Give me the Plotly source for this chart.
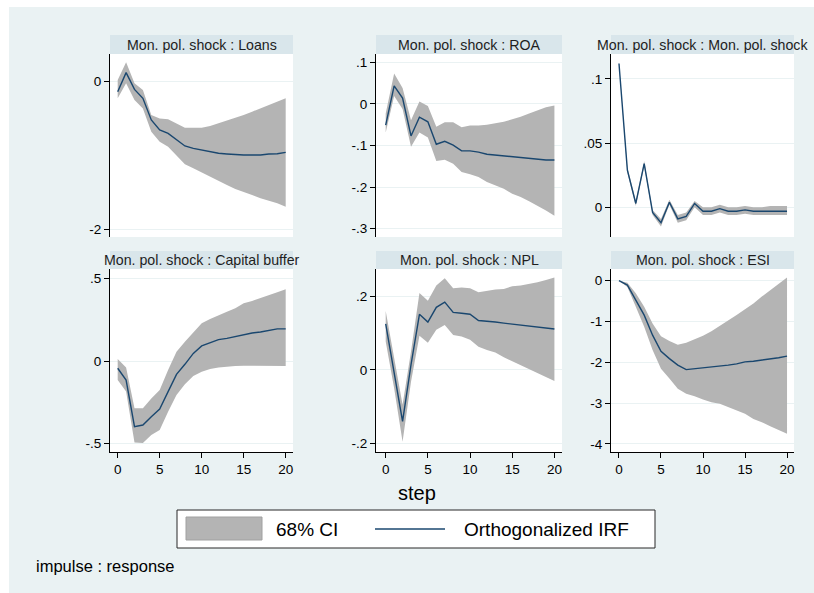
import plotly.graph_objects as go

W, H = 814, 593
steps = list(range(21))
x_ticks = [0, 5, 10, 15, 20]

# ---------------- data ----------------
loans_irf = [-0.144, 0.113, -0.113, -0.234, -0.527, -0.662, -0.707, -0.797, -0.878, -0.91, -0.932,
             -0.96, -0.977, -0.986, -0.995, -1.0, -1.0, -1.0, -0.986, -0.982, -0.964]
loans_hi = [0.014, 0.252, -0.03, -0.12, -0.46, -0.505, -0.518, -0.572, -0.63, -0.63, -0.63,
            -0.608, -0.572, -0.536, -0.495, -0.46, -0.414, -0.37, -0.324, -0.28, -0.234]
loans_lo = [-0.234, -0.03, -0.257, -0.37, -0.685, -0.82, -0.887, -1.0, -1.126, -1.18, -1.239,
            -1.293, -1.347, -1.405, -1.46, -1.495, -1.54, -1.586, -1.617, -1.653, -1.698]

roa_irf = [-0.051, 0.0435, 0.014, -0.077, -0.032, -0.043, -0.097, -0.09, -0.099, -0.113, -0.113,
           -0.116, -0.121, -0.123, -0.125, -0.127, -0.129, -0.131, -0.133, -0.135, -0.135]
roa_hi = [-0.023, 0.073, 0.038, -0.039, 0.006, -0.005, -0.055, -0.044, -0.044, -0.056, -0.052,
          -0.052, -0.05, -0.047, -0.043, -0.037, -0.031, -0.023, -0.015, -0.008, -0.004]
roa_lo = [-0.069, 0.019, -0.012, -0.103, -0.069, -0.081, -0.137, -0.134, -0.144, -0.164, -0.169,
          -0.176, -0.188, -0.196, -0.204, -0.216, -0.224, -0.234, -0.244, -0.256, -0.269]

mps_irf = [0.112, 0.029, 0.003, 0.034, -0.004, -0.012, 0.004, -0.009, -0.007, 0.003, -0.003,
           -0.003, -0.001, -0.003, -0.003, -0.002, -0.003, -0.003, -0.003, -0.003, -0.003]
mps_hi = [0.1125, 0.031, 0.005, 0.036, -0.002, -0.009, 0.006, -0.006, -0.004, 0.005, 0.0,
          0.0, 0.002, 0.0, 0.0, 0.001, 0.0, 0.0, 0.001, 0.001, 0.001]
mps_lo = [0.1115, 0.027, 0.001, 0.032, -0.006, -0.015, 0.002, -0.012, -0.010, 0.0, -0.006,
          -0.006, -0.004, -0.006, -0.006, -0.005, -0.006, -0.006, -0.006, -0.006, -0.006]

cap_irf = [-0.044, -0.115, -0.397, -0.387, -0.337, -0.29, -0.185, -0.081, -0.02, 0.046, 0.091,
           0.111, 0.129, 0.137, 0.149, 0.161, 0.169, 0.175, 0.185, 0.194, 0.194]
cap_hi = [0.012, -0.04, -0.286, -0.286, -0.226, -0.175, -0.054, 0.056, 0.117, 0.173, 0.228,
          0.254, 0.278, 0.298, 0.319, 0.349, 0.363, 0.379, 0.399, 0.415, 0.433]
cap_lo = [-0.115, -0.185, -0.492, -0.496, -0.448, -0.417, -0.306, -0.206, -0.141, -0.091, -0.065,
          -0.048, -0.04, -0.034, -0.03, -0.028, -0.028, -0.028, -0.028, -0.03, -0.03]

npl_irf = [0.125, -0.01, -0.14, 0.014, 0.151, 0.13, 0.17, 0.184, 0.156, 0.154, 0.151,
           0.134, 0.133, 0.13, 0.127, 0.124, 0.122, 0.12, 0.117, 0.113, 0.111]
npl_hi = [0.16, 0.032, -0.095, 0.05, 0.209, 0.188, 0.229, 0.249, 0.222, 0.224, 0.222,
          0.211, 0.215, 0.218, 0.22, 0.227, 0.229, 0.233, 0.238, 0.244, 0.251]
npl_lo = [0.077, -0.05, -0.195, -0.032, 0.093, 0.074, 0.109, 0.122, 0.095, 0.091, 0.082,
          0.063, 0.054, 0.047, 0.034, 0.023, 0.014, 0.002, -0.009, -0.021, -0.03]

esi_irf = [0.0, -0.107, -0.475, -0.844, -1.336, -1.73, -1.91, -2.07, -2.18, -2.16, -2.14,
           -2.12, -2.10, -2.07, -2.04, -1.99, -1.975, -1.95, -1.93, -1.89, -1.85]
esi_hi = [0.0, -0.05, -0.31, -0.64, -1.05, -1.36, -1.48, -1.57, -1.52, -1.44, -1.35,
          -1.24, -1.11, -0.99, -0.84, -0.70, -0.56, -0.39, -0.23, -0.07, 0.08]
esi_lo = [0.0, -0.156, -0.64, -1.13, -1.70, -2.16, -2.40, -2.65, -2.77, -2.83, -2.91,
          -2.98, -3.02, -3.10, -3.18, -3.26, -3.39, -3.47, -3.57, -3.66, -3.75]

titles = ["Mon. pol. shock : Loans", "Mon. pol. shock : ROA", "Mon. pol. shock : Mon. pol. shock",
          "Mon. pol. shock : Capital buffer", "Mon. pol. shock : NPL", "Mon. pol. shock : ESI"]

loans_tv, loans_tt = [0, -2], ["0", "-2"]
roa_tv, roa_tt = [0.1, 0, -0.1, -0.2, -0.3], [".1", "0", "-.1", "-.2", "-.3"]
mps_tv, mps_tt = [0.1, 0.05, 0], [".1", ".05", "0"]
cap_tv, cap_tt = [0.5, 0, -0.5], [".5", "0", "-.5"]
npl_tv, npl_tt = [0.2, 0, -0.2], [".2", "0", "-.2"]
esi_tv, esi_tt = [0, -1, -2, -3, -4], ["0", "-1", "-2", "-3", "-4"]

legend_labels = ["68% CI", "Orthogonalized IRF"]

# ---------------- styling / layout ----------------
BG = "rgb(234,242,243)"
STRIP = "rgb(217,230,235)"
GRID = "rgb(234,242,243)"
CI = "rgb(180,180,180)"
NAVY = "rgb(26,71,111)"
FONT = "Liberation Sans, Arial, sans-serif"

def px(x):
    return x / W

def py(y):
    return 1 - y / H

panels = [
    dict(irf=loans_irf, hi=loans_hi, lo=loans_lo, tv=loans_tv, tt=loans_tt, yr=[-2.108, 0.365]),
    dict(irf=roa_irf, hi=roa_hi, lo=roa_lo, tv=roa_tv, tt=roa_tt, yr=[-0.32, 0.12]),
    dict(irf=mps_irf, hi=mps_hi, lo=mps_lo, tv=mps_tv, tt=mps_tt, yr=[-0.0231, 0.1194]),
    dict(irf=cap_irf, hi=cap_hi, lo=cap_lo, tv=cap_tv, tt=cap_tt, yr=[-0.55, 0.556]),
    dict(irf=npl_irf, hi=npl_hi, lo=npl_lo, tv=npl_tv, tt=npl_tt, yr=[-0.223, 0.274]),
    dict(irf=esi_irf, hi=esi_hi, lo=esi_lo, tv=esi_tv, tt=esi_tt, yr=[-4.2, 0.287]),
]

col_px = [(110, 293), (376, 562), (611, 794)]
col_xr = [[-0.917, 20.87], [-1.15, 20.9], [-0.95, 20.83]]
row_px = [(54, 237), (269, 452)]
strip_px = [(35, 54), (251, 269)]

fig = go.Figure()
shapes = []
annotations = []
layout_axes = {}

for i, p in enumerate(panels):
    r, c = divmod(i, 3)
    n = i + 1
    xa = "x" if n == 1 else f"x{n}"
    ya = "y" if n == 1 else f"y{n}"
    fig.add_trace(go.Scatter(x=steps, y=p["lo"], mode="lines", line=dict(width=0, color=CI),
                             xaxis=xa, yaxis=ya, showlegend=False, hoverinfo="skip"))
    fig.add_trace(go.Scatter(x=steps, y=p["hi"], mode="lines", line=dict(width=0, color=CI),
                             fill="tonexty", fillcolor=CI,
                             xaxis=xa, yaxis=ya, showlegend=False, hoverinfo="skip"))
    fig.add_trace(go.Scatter(x=steps, y=p["irf"], mode="lines", line=dict(width=1.4, color=NAVY),
                             xaxis=xa, yaxis=ya, showlegend=False))
    x0, x1 = col_px[c]
    y0, y1 = row_px[r]
    xkey = "xaxis" if n == 1 else f"xaxis{n}"
    ykey = "yaxis" if n == 1 else f"yaxis{n}"
    layout_axes[xkey] = dict(
        domain=[px(x0), px(x1)], anchor=ya, range=col_xr[c],
        showgrid=False, zeroline=False,
        visible=(r == 1), showline=True, linecolor="black", linewidth=1,
        ticks="outside", ticklen=5, tickcolor="black",
        tickmode="array", tickvals=x_ticks, ticktext=[str(v) for v in x_ticks],
        tickfont=dict(family=FONT, size=13.5, color="black"),
    )
    layout_axes[ykey] = dict(
        domain=[py(y1), py(y0)], anchor=xa, range=p["yr"],
        showgrid=True, gridcolor=GRID, gridwidth=1, zeroline=False,
        showline=True, linecolor="black", linewidth=1,
        ticks="outside", ticklen=5, tickcolor="black",
        tickmode="array", tickvals=p["tv"], ticktext=p["tt"],
        tickfont=dict(family=FONT, size=13.5, color="black"),
    )
    s0, s1 = strip_px[r]
    shapes.append(dict(type="rect", xref="paper", yref="paper",
                       x0=px(x0), x1=px(x1), y0=py(s1), y1=py(s0),
                       fillcolor=STRIP, line=dict(width=0), layer="below"))
    annotations.append(dict(text=titles[i], xref="paper", yref="paper",
                            x=px((x0 + x1) / 2), y=py((s0 + s1) / 2),
                            xanchor="center", yanchor="middle", showarrow=False,
                            font=dict(family=FONT, size=14.2, color="rgb(30,30,30)")))

# thin white page border (left and top) around the grey-blue graph region
for (a0, a1, b0, b1) in [(0, 9, 0, H), (0, W, 0, 7)]:
    shapes.append(dict(type="rect", xref="paper", yref="paper",
                       x0=px(a0), x1=px(a1), y0=py(b1), y1=py(b0),
                       fillcolor="white", line=dict(width=0)))

# legend box
shapes.append(dict(type="rect", xref="paper", yref="paper",
                   x0=px(177), x1=px(655), y0=py(548), y1=py(510),
                   fillcolor="white", line=dict(color="rgb(40,40,40)", width=1)))
shapes.append(dict(type="rect", xref="paper", yref="paper",
                   x0=px(186), x1=px(262), y0=py(540), y1=py(517),
                   fillcolor=CI, line=dict(color="rgb(160,160,160)", width=1)))
shapes.append(dict(type="line", xref="paper", yref="paper",
                   x0=px(375), x1=px(445), y0=py(529), y1=py(529),
                   line=dict(color=NAVY, width=1.4)))
annotations.append(dict(text=legend_labels[0], xref="paper", yref="paper",
                        x=px(274), y=py(529), xanchor="left", yanchor="middle", showarrow=False,
                        font=dict(family=FONT, size=19, color="black")))
annotations.append(dict(text=legend_labels[1], xref="paper", yref="paper",
                        x=px(462), y=py(529), xanchor="left", yanchor="middle", showarrow=False,
                        font=dict(family=FONT, size=19, color="black")))
annotations.append(dict(text="step", xref="paper", yref="paper",
                        x=px(417), y=py(493), xanchor="center", yanchor="middle", showarrow=False,
                        font=dict(family=FONT, size=20, color="black")))
annotations.append(dict(text="impulse : response", xref="paper", yref="paper",
                        x=px(34), y=py(566), xanchor="left", yanchor="middle", showarrow=False,
                        font=dict(family=FONT, size=16.5, color="black")))

fig.update_layout(
    width=W, height=H, margin=dict(l=0, r=0, t=0, b=0),
    paper_bgcolor=BG, plot_bgcolor="white",
    showlegend=False, shapes=shapes, annotations=annotations,
    **layout_axes,
)

fig.write_html(
    "out.html",
    config={"displayModeBar": False},
    post_script="document.body.style.margin='0px';document.body.style.overflow='hidden';",
)
